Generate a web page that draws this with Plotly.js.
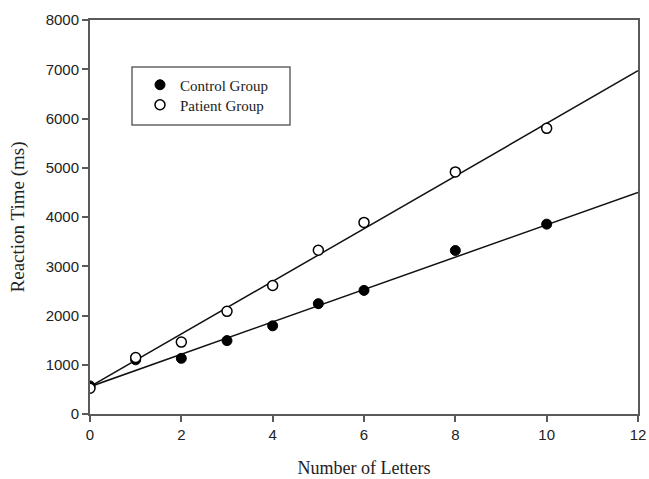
<!DOCTYPE html>
<html>
<head>
<meta charset="utf-8">
<script src="https://cdn.plot.ly/plotly-3.0.1.min.js"></script>
<style>html,body{margin:0;padding:0;background:#fff;}#chart{width:649px;height:479px;}</style>
</head>
<body>
<div id="chart"></div>
<script>
const letters = [0, 1, 2, 3, 4, 5, 6, 8, 10];
const controlRT = [570, 1100, 1130, 1490, 1790, 2240, 2510, 3320, 3855];
const patientRT = [525, 1145, 1460, 2085, 2610, 3325, 3890, 4915, 5800];
const fitX = [0, 12];
const controlFit = [555, 4500];
const patientFit = [555, 6970];

const axisColor = '#5a5a5a';
const serif = 'Liberation Serif, Times New Roman, serif';
const traces = [
  {x: fitX, y: controlFit, mode: 'lines', line: {color: '#111', width: 1.5}, showlegend: false, hoverinfo: 'skip'},
  {x: fitX, y: patientFit, mode: 'lines', line: {color: '#111', width: 1.5}, showlegend: false, hoverinfo: 'skip'},
  {x: letters, y: controlRT, mode: 'markers', name: 'Control Group', legend: 'legend',
   marker: {symbol: 'circle', size: 10, color: '#000', line: {color: '#000', width: 1}}},
  {x: letters, y: patientRT, mode: 'markers', name: 'Patient Group', legend: 'legend2',
   marker: {symbol: 'circle', size: 10, color: '#fff', line: {color: '#000', width: 1.5}}}
];

const legendBase = {
  xanchor: 'left', yanchor: 'middle',
  bgcolor: 'rgba(0,0,0,0)', borderwidth: 0,
  font: {family: serif, size: 15, color: '#222'}
};

const layout = {
  width: 649, height: 479,
  margin: {l: 90, r: 11, t: 20, b: 65},
  paper_bgcolor: '#fff', plot_bgcolor: '#fff',
  font: {family: 'Liberation Sans, Arial, sans-serif', color: '#222', size: 15},
  xaxis: {
    range: [0, 12], tickvals: [0, 2, 4, 6, 8, 10, 12],
    showgrid: false, zeroline: false,
    showline: true, linecolor: axisColor, linewidth: 2, mirror: true,
    ticks: 'outside', ticklen: 6, tickwidth: 2, tickcolor: axisColor,
    tickfont: {size: 15, family: 'Liberation Sans, Arial, sans-serif'},
    title: {text: 'Number of Letters', font: {family: serif, size: 18}, standoff: 19}
  },
  yaxis: {
    range: [0, 8000], tickvals: [0, 1000, 2000, 3000, 4000, 5000, 6000, 7000, 8000],
    showgrid: false, zeroline: false,
    showline: true, linecolor: axisColor, linewidth: 2, mirror: true,
    ticks: 'outside', ticklen: 6, tickwidth: 2, tickcolor: axisColor,
    tickfont: {size: 15, family: 'Liberation Sans, Arial, sans-serif'},
    title: {text: 'Reaction Time (ms)', font: {family: serif, size: 19}, standoff: 16}
  },
  shapes: [{
    type: 'rect', xref: 'paper', yref: 'paper',
    x0: (132 - 90) / 548, x1: (290 - 90) / 548,
    y0: (414 - 125) / 394, y1: (414 - 67) / 394,
    line: {color: '#666', width: 1.5}, fillcolor: 'rgba(0,0,0,0)', layer: 'above'
  }],
  legend: Object.assign({x: (140 - 90) / 548, y: (414 - 85) / 394}, legendBase),
  legend2: Object.assign({x: (140 - 90) / 548, y: (414 - 105) / 394}, legendBase),
  showlegend: true
};

Plotly.newPlot('chart', traces, layout, {displayModeBar: false, staticPlot: true});
</script>
</body>
</html>
